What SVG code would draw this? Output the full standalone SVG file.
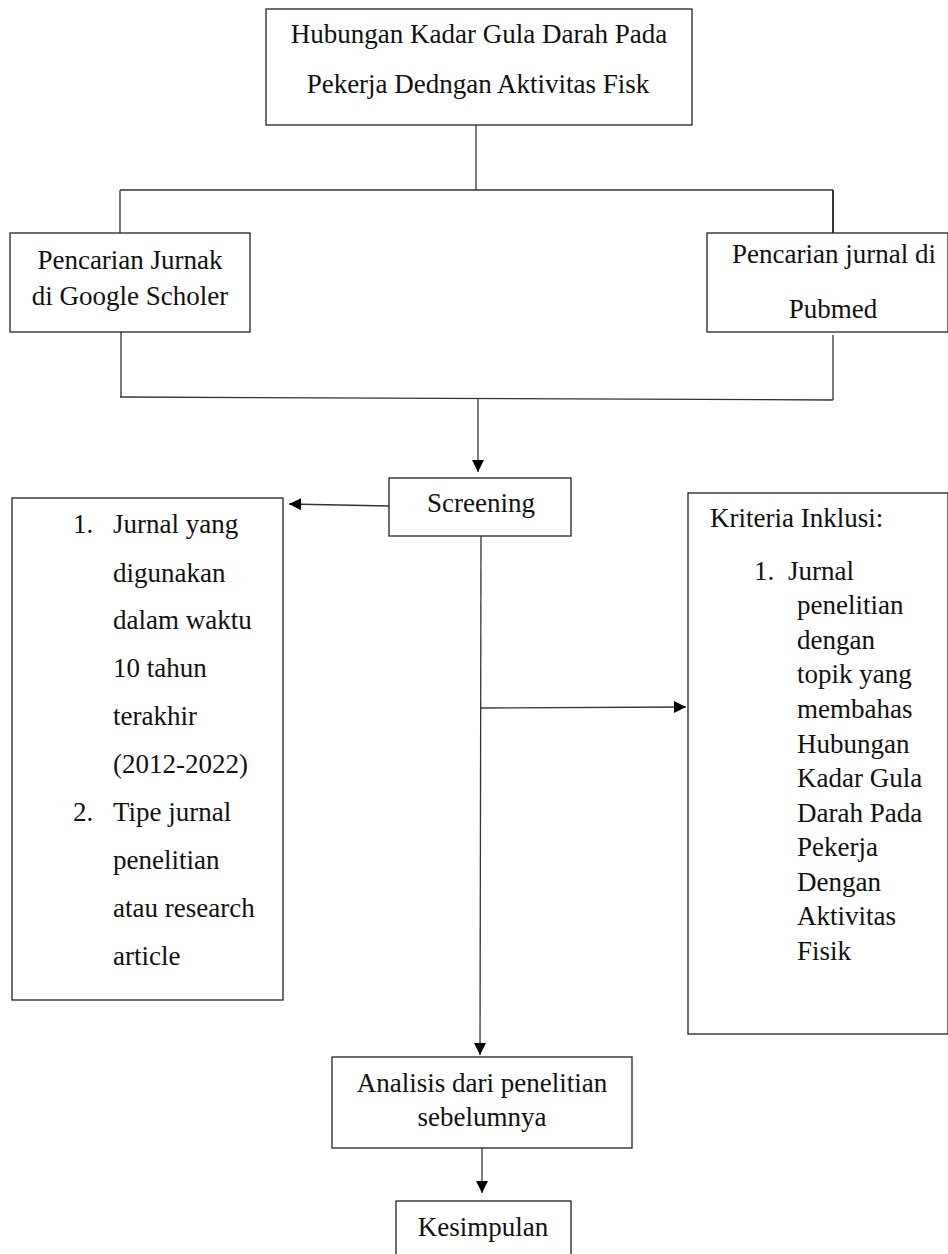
<svg xmlns="http://www.w3.org/2000/svg" width="948" height="1254" viewBox="0 0 948 1254">
<style>
.box{fill:#fff;stroke:#222;stroke-width:1.3}
.ln{fill:none;stroke:#333;stroke-width:1.3}
.t{font-family:"Liberation Serif","Times New Roman",serif;font-size:27px;fill:#111}
.c{text-anchor:middle}
</style>
<defs>
<marker id="ah" markerUnits="userSpaceOnUse" markerWidth="13" markerHeight="13" refX="12" refY="6" orient="auto">
<path d="M0,0 L12,6 L0,12 z" fill="#000"/>
</marker>
</defs>
<rect width="948" height="1254" fill="#fff"/>
<g id="connectors">
<path class="ln" d="M476,125 V190"/>
<path class="ln" d="M120,190 H833"/>
<path class="ln" d="M120,190 V233"/>
<path class="ln" d="M833,190 V233" style="stroke-width:2"/>
<path class="ln" d="M121,332 V397"/>
<path class="ln" d="M833,335 V400"/>
<path class="ln" d="M120,397 L833,400"/>
<path class="ln" d="M478,398 V472" marker-end="url(#ah)"/>
<path class="ln" d="M389,506 L289,504" marker-end="url(#ah)"/>
<path class="ln" d="M481,536 L480,1055" marker-end="url(#ah)"/>
<path class="ln" d="M481,708 L686,707" marker-end="url(#ah)"/>
<path class="ln" d="M482,1146 V1193" marker-end="url(#ah)"/>
</g>
<g id="title">
<rect class="box" x="266" y="9" width="426" height="116"/>
<text class="t c" x="479" y="43">Hubungan Kadar Gula Darah Pada</text>
<text class="t c" x="478" y="93">Pekerja Dedngan Aktivitas Fisk</text>
</g>
<g id="google">
<rect class="box" x="10" y="233" width="240" height="99"/>
<text class="t c" x="130" y="269">Pencarian Jurnak</text>
<text class="t c" x="130" y="305">di Google Scholer</text>
</g>
<g id="pubmed">
<rect class="box" x="707" y="233" width="241" height="99"/>
<text class="t c" x="834" y="263">Pencarian jurnal di</text>
<text class="t c" x="833" y="318">Pubmed</text>
</g>
<g id="screening">
<rect class="box" x="389" y="478" width="182" height="58"/>
<text class="t c" x="481" y="512">Screening</text>
</g>
<g id="exclusion">
<rect class="box" x="12" y="498" width="271" height="502"/>
<text class="t" x="73" y="533">1.</text>
<text class="t" x="113" y="533">Jurnal yang</text>
<text class="t" x="113" y="582">digunakan</text>
<text class="t" x="113" y="629">dalam waktu</text>
<text class="t" x="113" y="677">10 tahun</text>
<text class="t" x="113" y="725">terakhir</text>
<text class="t" x="113" y="773">(2012-2022)</text>
<text class="t" x="73" y="821">2.</text>
<text class="t" x="113" y="821">Tipe jurnal</text>
<text class="t" x="113" y="869">penelitian</text>
<text class="t" x="113" y="917">atau research</text>
<text class="t" x="113" y="965">article</text>
</g>
<g id="inclusion">
<rect class="box" x="688" y="493" width="260" height="541"/>
<text class="t" x="710" y="527">Kriteria Inklusi:</text>
<text class="t" x="754" y="580">1.</text>
<text class="t" x="788" y="580">Jurnal</text>
<text class="t" x="797" y="614">penelitian</text>
<text class="t" x="797" y="649">dengan</text>
<text class="t" x="797" y="683">topik yang</text>
<text class="t" x="797" y="718">membahas</text>
<text class="t" x="797" y="753">Hubungan</text>
<text class="t" x="797" y="787">Kadar Gula</text>
<text class="t" x="797" y="822">Darah Pada</text>
<text class="t" x="797" y="856">Pekerja</text>
<text class="t" x="797" y="891">Dengan</text>
<text class="t" x="797" y="925">Aktivitas</text>
<text class="t" x="797" y="960">Fisik</text>
</g>
<g id="analisis">
<rect class="box" x="332" y="1057" width="300" height="91"/>
<text class="t c" x="482" y="1092">Analisis dari penelitian</text>
<text class="t c" x="482" y="1126">sebelumnya</text>
</g>
<g id="kesimpulan">
<rect class="box" x="396" y="1201" width="175" height="70"/>
<text class="t c" x="483" y="1236">Kesimpulan</text>
</g>
</svg>
